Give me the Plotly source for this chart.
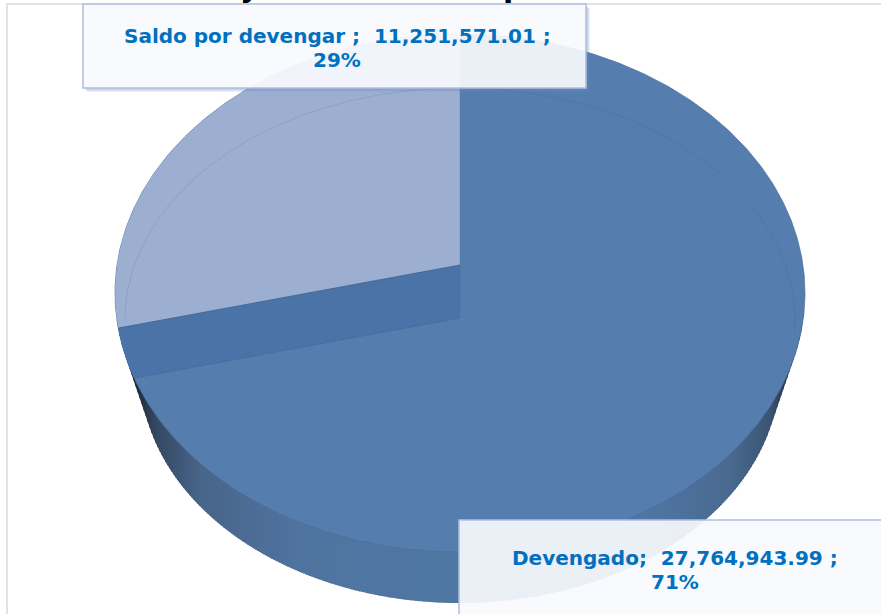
import numpy as np
import plotly.graph_objects as go

# ---- data ----
categories = ["Devengado", "Saldo por devengar"]
values = [27764943.99, 11251571.01]
separators = [";\u00a0\u00a0", "\u00a0;\u00a0\u00a0"]
slice_colors = ["#557DAD", "#9CAFD0"]
cut_face_color = "#4A74A8"
label_color = "#0070C0"

W, H = 881, 614
CX = 460
TOP = dict(cy=293, rx=345, ry=259)      # top face outline
RING = dict(cy=320, rx=335, ry=232)     # faint inner ring
BASE = dict(cy=371, rx=320, ry=232)     # lower rim
APEX_TOP, APEX_LOW = 265, 318

total = sum(values)
theta = 2 * np.pi * values[1] / total


def arc(e, a0, a1, n=300):
    """Angles run counter-clockwise from 12 o'clock."""
    a = np.linspace(a0, a1, n)
    return CX - e["rx"] * np.sin(a), e["cy"] - e["ry"] * np.cos(a)


def ray_hit(apex_y, e, th):
    """Where the ray of a slice edge, leaving the apex, meets the outline."""
    dx, dy = -e["rx"] * np.sin(th), -e["ry"] * np.cos(th)
    oy = apex_y - e["cy"]
    a = (dx / e["rx"]) ** 2 + (dy / e["ry"]) ** 2
    b = 2 * oy * dy / e["ry"] ** 2
    c = (oy / e["ry"]) ** 2 - 1
    t = (-b + np.sqrt(b * b - 4 * a * c)) / (2 * a)
    return np.arctan2(-(dx * t) / e["rx"], -(oy + dy * t) / e["ry"]) % (2 * np.pi)


fig = go.Figure()


def poly(x, y, color, line=None, lw=0):
    fig.add_trace(go.Scatter(
        x=x, y=y, mode="lines", fill="toself", fillcolor=color,
        line=dict(color=line or color, width=lw) if lw else dict(width=0),
        hoverinfo="skip", showlegend=False))


# side wall, painted as narrow strips following the light falloff
wall_x = [115, 130, 155, 200, 300, 450, 650, 730, 770, 795, 805]
wall_r = [15, 20, 51, 72, 79, 80, 79, 74, 59, 28, 20]
wall_g = [24, 30, 71, 101, 116, 120, 118, 106, 85, 44, 32]
wall_b = [36, 44, 95, 138, 160, 165, 163, 144, 115, 64, 46]

ts = np.linspace(0, 1, 60)
step = 2
for x0 in range(115, 806, step):
    xs = np.array([x0, x0 + step + 1.0])
    lows = []
    for x in xs:
        best = -1.0
        for t in ts:
            rx = TOP["rx"] + t * (BASE["rx"] - TOP["rx"])
            ry = TOP["ry"] + t * (BASE["ry"] - TOP["ry"])
            cy = TOP["cy"] + t * (BASE["cy"] - TOP["cy"])
            u = abs(x - CX) / rx
            if u < 1:
                best = max(best, cy + ry * np.sqrt(1 - u * u))
        lows.append(best)
    if min(lows) < 0:
        continue
    xm = xs.mean()
    col = "rgb(%d,%d,%d)" % (np.interp(xm, wall_x, wall_r),
                             np.interp(xm, wall_x, wall_g),
                             np.interp(xm, wall_x, wall_b))
    poly([xs[0], xs[1], xs[1], xs[0], xs[0]],
         [TOP["cy"], TOP["cy"], lows[1], lows[0], TOP["cy"]], col)

# top face: Devengado
x, y = arc(TOP, 0, 2 * np.pi, 600)
poly(x, y, slice_colors[0], "#4C6F9E", 0.7)

# exposed cut face between both slices
a_top = ray_hit(APEX_TOP, TOP, theta)
a_low = ray_hit(APEX_LOW, TOP, theta)
ax, ay = arc(TOP, a_top, a_low, 40)
poly(np.r_[CX, ax, CX, CX], np.r_[APEX_TOP, ay, APEX_LOW, APEX_TOP], cut_face_color)

# top face: Saldo por devengar
ax, ay = arc(TOP, 0, a_top, 200)
poly(np.r_[CX, ax, CX], np.r_[APEX_TOP, ay, APEX_TOP], slice_colors[1])

# slice edge lines
ex, ey = arc(TOP, a_top, a_top, 1)
fig.add_trace(go.Scatter(x=[CX, ex[0]], y=[APEX_TOP, ey[0]], mode="lines",
                         line=dict(color="#3F5F8E", width=0.8),
                         hoverinfo="skip", showlegend=False))
ex, ey = arc(TOP, a_low, a_low, 1)
fig.add_trace(go.Scatter(x=[CX, ex[0]], y=[APEX_LOW, ey[0]], mode="lines",
                         line=dict(color="rgba(60,90,135,0.30)", width=1),
                         hoverinfo="skip", showlegend=False))
fig.add_trace(go.Scatter(x=[CX, CX], y=[TOP["cy"] - TOP["ry"], APEX_LOW], mode="lines",
                         line=dict(color="rgba(70,105,150,0.30)", width=1),
                         hoverinfo="skip", showlegend=False))

# faint inner ring
rx_, ry_ = arc(RING, -np.pi / 2 - 0.06, np.pi / 2, 300)
fig.add_trace(go.Scatter(x=rx_, y=ry_, mode="lines",
                         line=dict(color="rgba(50,80,125,0.14)", width=1),
                         hoverinfo="skip", showlegend=False))

# ---- label boxes ----
boxes = [(459, 520, 900, 640), (83, 4, 586, 88)]
text_pos = [(675, 558, 582), (337, 36, 60)]
shapes = [
    dict(type="rect", xref="x", yref="y", x0=7, x1=900, y0=4, y1=640,
         line=dict(color="#D9D9D9", width=1.5), layer="below"),
]
annotations = []
label_font = dict(family="DejaVu Sans", size=20, color=label_color, weight="bold")
for (bx0, by0, bx1, by1), (tx, ty1, ty2), cat, val, sep in zip(boxes, text_pos, categories, values, separators):
    # soft shadow only on the right and bottom sides, so the box stays pale
    for off, alpha in ((4, 0.14), (2.5, 0.28)):
        shapes.append(dict(type="rect", xref="x", yref="y", x0=bx1, x1=bx1 + off,
                           y0=by0 + off, y1=by1 + off, line=dict(width=0),
                           fillcolor=f"rgba(110,140,200,{alpha})", layer="above"))
        shapes.append(dict(type="rect", xref="x", yref="y", x0=bx0 + off, x1=bx1,
                           y0=by1, y1=by1 + off, line=dict(width=0),
                           fillcolor=f"rgba(110,140,200,{alpha})", layer="above"))
    shapes.append(dict(type="rect", xref="x", yref="y", x0=bx0, x1=bx1, y0=by0, y1=by1,
                       fillcolor="rgba(249,250,253,0.92)",
                       line=dict(color="#AEBFDF", width=1.5), layer="above"))
    pct = round(100 * val / total)
    annotations.append(dict(x=tx, y=ty1, xref="x", yref="y", showarrow=False,
                            text=f"{cat}{sep}{val:,.2f}\u00a0;", font=label_font))
    annotations.append(dict(x=tx, y=ty2, xref="x", yref="y", showarrow=False,
                            text=f"{pct}%", font=label_font))

# descenders of the cropped title above the chart frame
for ch, px in (("j", 248), ("p", 513)):
    annotations.append(dict(
        x=px / W, y=1 + 13 / H, xref="paper", yref="paper", showarrow=False,
        xanchor="center", yanchor="middle", text=ch,
        font=dict(family="DejaVu Sans", size=30, color="#000000", weight="bold"),
    ))

fig.update_layout(
    width=W, height=H, margin=dict(l=0, r=0, t=0, b=0),
    paper_bgcolor="white", plot_bgcolor="white", showlegend=False,
    xaxis=dict(range=[0, W], visible=False, fixedrange=True),
    yaxis=dict(range=[H, 0], visible=False, fixedrange=True),
    shapes=shapes, annotations=annotations,
)
fig.write_html("out.html", config=dict(displayModeBar=False),
               post_script="document.body.style.margin='0';document.body.style.overflow='hidden';")
